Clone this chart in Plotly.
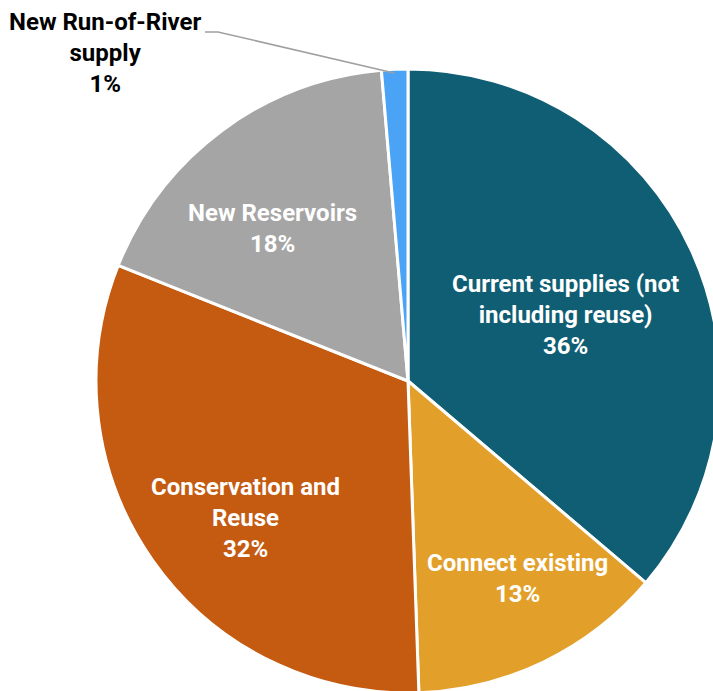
import plotly.graph_objects as go

labels = ["Current supplies (not<br>including reuse)", "Connect existing", "Conservation and<br>Reuse",
          "New Reservoirs", "New Run-of-River<br>supply"]
values = [36.2, 13.25, 31.6, 17.6, 1.36]
colors = ["#0F5E73", "#E2A02A", "#C55A11", "#A5A5A5", "#4AA3F5"]

# label anchor positions in target pixels (x, y from top)
label_px = [(565, 315), (517, 578), (245, 518), (272, 228), (105, 53)]
label_colors = ["white", "white", "white", "white", "black"]

W, H = 724, 700
OFF = 0  # page body margin removed below

def fx(px):
    return (px - OFF) / W

def fy(py):
    return 1 - (py - OFF) / H

# pie: center (408, 381), radius 311 in target pixels
cx, cy, r = 408, 381, 312
fig = go.Figure(go.Pie(
    labels=labels, values=values, sort=False, direction="clockwise", rotation=0,
    marker=dict(colors=colors, line=dict(color="white", width=3)),
    textinfo="none", hoverinfo="label+percent", showlegend=False,
    domain=dict(x=[fx(cx - r), min(1.0, fx(cx + r))], y=[max(0.0, fy(cy + r)), fy(cy - r)]),
))

total = sum(values)
annotations = []
for lab, v, (px, py), c in zip(labels, values, label_px, label_colors):
    annotations.append(dict(
        x=fx(px), y=fy(py), xref="paper", yref="paper",
        text=f"{lab}<br>{round(100 * v / total)}%", showarrow=False,
        font=dict(family="Roboto", size=24, color=c, weight="bold"),
        align="center", xanchor="center", yanchor="middle",
    ))

shapes = [dict(type="path", xref="paper", yref="paper",
               path=f"M {fx(205)} {fy(32)} L {fx(218)} {fy(32)} L {fx(394)} {fy(73)}",
               line=dict(color="#A0A0A0", width=1.5))]

fig.update_layout(width=W, height=H, margin=dict(l=0, r=0, t=0, b=0),
                  paper_bgcolor="white", plot_bgcolor="white",
                  annotations=annotations, shapes=shapes)
fig.write_html(
    "out.html",
    config={"displayModeBar": False},
    post_script="document.body.style.margin='0';document.body.style.overflow='hidden';"
                "document.documentElement.style.overflow='hidden';",
)
